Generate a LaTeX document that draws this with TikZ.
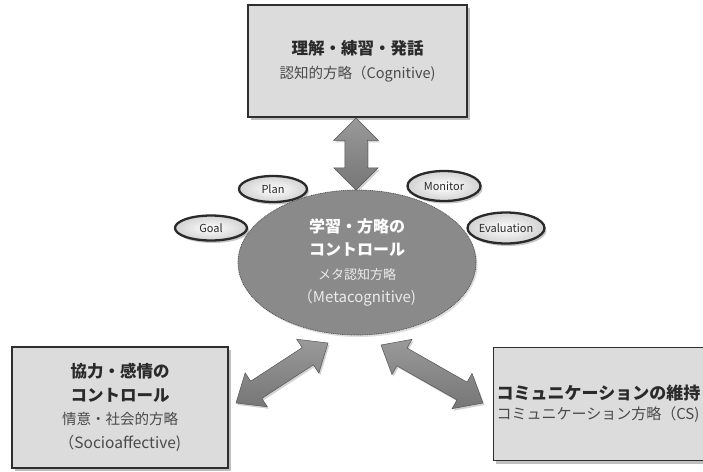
\documentclass[tikz,border=0pt]{standalone}
\usepackage{fontspec}
\setmainfont{Noto Sans CJK JP}
\usetikzlibrary{shapes.geometric,shapes.arrows,shadows,calc}
\definecolor{boxfill}{HTML}{DCDCDC}
\definecolor{boxline}{HTML}{2E2E2E}
\definecolor{metafill}{HTML}{8A8A8A}
\definecolor{metaline}{HTML}{505050}
\definecolor{arrtop}{HTML}{9A9A9A}
\definecolor{arrbot}{HTML}{767676}
\definecolor{arrline}{HTML}{555555}
\definecolor{smallline}{HTML}{2A2A2A}
\definecolor{smallout}{HTML}{D2D2D2}
\definecolor{txt}{HTML}{2A2A2A}
\definecolor{subtxt}{HTML}{4A4A4A}
\begin{document}
\begin{tikzpicture}[x=1pt,y=-1pt,
  box/.style={rectangle, draw=boxline, line width=1.2pt, fill=boxfill, inner sep=0pt,
    align=center, text=txt,
    drop shadow={shadow xshift=2.5pt, shadow yshift=-3pt, opacity=0.5}},
  meta/.style={ellipse, draw=metaline, dash pattern=on 1pt off 0.8pt, line width=0.7pt,
    fill=metafill, inner sep=0pt, align=center, text=white,
    drop shadow={shadow xshift=1.5pt, shadow yshift=-2pt, opacity=0.25}},
  small/.style={ellipse, draw=smallline, line width=2.3pt, inner color=white, outer color=smallout,
    inner sep=0pt, text=txt, font=\fontsize{11}{13}\selectfont,
    drop shadow={shadow xshift=2pt, shadow yshift=-2.5pt, opacity=0.45}},
  blockarrow/.style={double arrow, draw=arrline, line width=0.5pt, top color=arrtop, bottom color=arrbot,
    inner xsep=0pt, double arrow head indent=0pt,
    drop shadow={shadow xshift=1.5pt, shadow yshift=-2pt, opacity=0.35}}
]
\useasboundingbox (0,0) rectangle (703,471);
\fill[white] (0,0) rectangle (703,471);

% boxes
\node[box, minimum width=219pt, minimum height=112pt, font=\fontsize{14.5}{24}\selectfont] (cog) at (357.5,61)
  {{\fontsize{16.5}{24}\selectfont\bfseries 理解・練習・発話}\\{\color{subtxt}認知的方略（Cognitive)}};
\node[box, minimum width=216pt, minimum height=121pt, font=\fontsize{14.5}{23.5}\selectfont] (soc) at (120,407.5)
  {{\fontsize{16.5}{23.5}\selectfont\bfseries 協力・感情の}\\{\fontsize{16.5}{23.5}\selectfont\bfseries コントロール}\\{\color{subtxt}情意・社会的方略}\\{\color{subtxt}\fontsize{15.5}{23.5}\selectfont（Socioaffective)}};
\node[box, anchor=north west, minimum width=222pt, minimum height=113pt, text width=216pt, inner xsep=2pt,
  align=left, font=\fontsize{15}{20}\selectfont] (com) at (493,347)
  {{\fontsize{17}{20}\selectfont\bfseries コミュニケーションの維持}\\{\color{subtxt}コミュニケーション方略（CS)}};

% small ellipses
\node[small, minimum width=68pt, minimum height=26pt] (plan) at (273,189) {Plan};
\node[small, minimum width=72pt, minimum height=25pt] (goal) at (211,228) {Goal};
\node[small, minimum width=73pt, minimum height=30pt] (mon) at (444,186) {Monitor};
\node[small, minimum width=73pt, minimum height=31pt] (eval) at (506,228) {Evaluation};

% central ellipse
\node[meta, minimum width=238pt, minimum height=145pt, font=\fontsize{13}{23.5}\selectfont] (meta) at (357,262.5)
  {{\fontsize{16}{23.5}\selectfont\bfseries 学習・方略の}\\{\fontsize{16}{23.5}\selectfont\bfseries コントロール}\\{\color{white!92!black}メタ認知方略}\\{\color{white!92!black}\fontsize{15}{23.5}\selectfont（Metacognitive)}};

% arrows
\coordinate (t1) at (356,118);
\coordinate (t2) at (356,190);
\coordinate (l1) at (236,403);
\coordinate (l2) at (328,343);
\coordinate (r1) at (381,345);
\coordinate (r2) at (483,403);
\path let \p1=($(t2)-(t1)$), \n1={atan2(\y1,\x1)}, \n2={veclen(\x1,\y1)} in
  node[blockarrow, inner ysep=11pt, minimum width=44pt, double arrow head extend=11pt, minimum height=\n2, rotate=\n1]
  (arrcog) at ($(t1)!0.5!(t2)$) {};
\path let \p1=($(l2)-(l1)$), \n1={atan2(\y1,\x1)}, \n2={veclen(\x1,\y1)} in
  node[blockarrow, inner ysep=10pt, minimum width=40pt, double arrow head extend=10pt, double arrow tip angle=80, minimum height=\n2, rotate=\n1]
  (arrsoc) at ($(l1)!0.5!(l2)$) {};
\path let \p1=($(r2)-(r1)$), \n1={atan2(\y1,\x1)}, \n2={veclen(\x1,\y1)} in
  node[blockarrow, inner ysep=10pt, minimum width=40pt, double arrow head extend=10pt, double arrow tip angle=80, minimum height=\n2, rotate=\n1]
  (arrcom) at ($(r1)!0.5!(r2)$) {};
\end{tikzpicture}
\end{document}
